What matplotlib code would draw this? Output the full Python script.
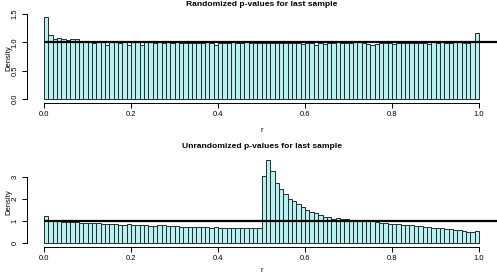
import numpy as np
import matplotlib
matplotlib.use('Agg')
import matplotlib.pyplot as plt

# bin edges shared by both histograms (width 0.01)
edges = np.arange(101) / 100.0

# densities for the randomized p-values
rand_density = [
    1.45, 1.13, 1.06, 1.07, 1.05, 1.04, 1.06, 1.05, 1.00, 1.00,
    1.01, 0.99, 1.02, 1.00, 0.96, 1.00, 1.00, 0.99, 1.02, 0.95,
    1.00, 1.00, 0.96, 1.00, 1.00, 0.99, 1.03, 0.98, 1.00, 0.98,
    1.03, 0.99, 0.98, 0.98, 0.99, 0.98, 0.99, 1.02, 0.98, 0.95,
    0.98, 0.98, 0.99, 1.00, 0.99, 0.99, 1.01, 0.99, 0.98, 0.99,
    0.99, 0.99, 0.99, 0.99, 0.98, 0.99, 0.99, 0.99, 0.98, 0.97,
    0.99, 0.99, 0.95, 0.99, 0.97, 0.99, 0.99, 1.01, 0.99, 0.99,
    0.98, 1.03, 1.03, 0.98, 0.97, 0.96, 0.97, 0.99, 0.98, 0.99,
    0.97, 0.99, 0.99, 0.99, 0.98, 0.99, 0.98, 0.99, 0.97, 1.02,
    0.99, 1.02, 0.99, 0.99, 1.01, 1.01, 0.99, 0.99, 1.01, 1.17,
]

# densities for the unrandomized p-values
unrand_density = [
    1.25, 1.00, 0.99, 0.98, 0.97, 0.95, 0.94, 0.95, 0.91, 0.90,
    0.90, 0.89, 0.89, 0.88, 0.86, 0.85, 0.85, 0.84, 0.83, 0.85,
    0.82, 0.81, 0.81, 0.80, 0.78, 0.79, 0.80, 0.80, 0.77, 0.76,
    0.77, 0.75, 0.75, 0.73, 0.74, 0.73, 0.72, 0.71, 0.70, 0.71,
    0.70, 0.69, 0.70, 0.68, 0.69, 0.68, 0.68, 0.67, 0.67, 0.68,
    3.05, 3.75, 3.29, 2.71, 2.44, 2.21, 2.02, 1.91, 1.76, 1.65,
    1.52, 1.41, 1.38, 1.26, 1.20, 1.19, 1.11, 1.13, 1.08, 1.07,
    1.05, 1.03, 1.01, 1.00, 0.99, 0.98, 0.97, 0.93, 0.90, 0.88,
    0.87, 0.86, 0.84, 0.82, 0.80, 0.78, 0.76, 0.74, 0.72, 0.70,
    0.68, 0.66, 0.64, 0.62, 0.60, 0.58, 0.55, 0.52, 0.51, 0.56,
]

x_ticks = [0.0, 0.2, 0.4, 0.6, 0.8, 1.0]
x_labels = ['0.0', '0.2', '0.4', '0.6', '0.8', '1.0']
top_yticks = [0.0, 0.5, 1.0, 1.5]
top_ylabels = ['0.0', '0.5', '1.0', '1.5']
bot_yticks = [0, 1, 2, 3]
bot_ylabels = ['0', '1', '2', '3']

W, H = 497, 274
plt.rcParams['font.family'] = ['Liberation Sans', 'DejaVu Sans']

fig = plt.figure(figsize=(W / 100, H / 100), dpi=100)


def px_axes(left, top, right, bottom):
    return fig.add_axes([left / W, 1 - bottom / H, (right - left) / W, (bottom - top) / H])


def draw_panel(ax, values, yticks, ylabels, ylim, title, title_y, label_y):
    ax.bar(edges[:-1], values, width=0.01, align='edge',
           color='#b8f1f1', edgecolor='#2a2a2a', linewidth=0.7)
    ax.hlines(1.0, 0.0, 1.1, color='black', linewidth=1.6, zorder=3)
    ax.set_xlim(-0.04, 1.04)
    ax.set_ylim(*ylim)
    for s in ['top', 'right']:
        ax.spines[s].set_visible(False)
    ax.spines['left'].set_bounds(yticks[0], yticks[-1])
    ax.spines['bottom'].set_bounds(0, 1)
    ax.spines['left'].set_linewidth(0.7)
    ax.spines['bottom'].set_linewidth(0.7)
    ax.set_xticks(x_ticks)
    ax.set_xticklabels(x_labels)
    ax.set_yticks(yticks)
    ax.set_yticklabels(ylabels, rotation=90, va='center')
    ax.tick_params(labelsize=5.5, length=3.5, width=0.7, pad=2.3)
    fig.text(261.5 / W, 1 - title_y / H, title, ha='center', va='center',
             fontsize=6.1, fontweight='bold')
    fig.text(261.5 / W, 1 - label_y / H, 'r', ha='center', va='center', fontsize=5.5)
    pos = ax.get_position()
    fig.text(8.5 / W, pos.y0 + pos.height / 2, 'Density', ha='center', va='center',
             rotation=90, fontsize=5.5)


ax1 = px_axes(26.7, 13, 496.5, 103)
draw_panel(ax1, rand_density, top_yticks, top_ylabels, (-0.065, 1.514),
           'Randomized p-values for last sample', 4.5, 130)

ax2 = px_axes(26.7, 157, 496.5, 246.5)
draw_panel(ax2, unrand_density, bot_yticks, bot_ylabels, (-0.159, 3.909),
           'Unrandomized p-values for last sample', 146.5, 270)

fig.savefig('out.png', dpi=100)
